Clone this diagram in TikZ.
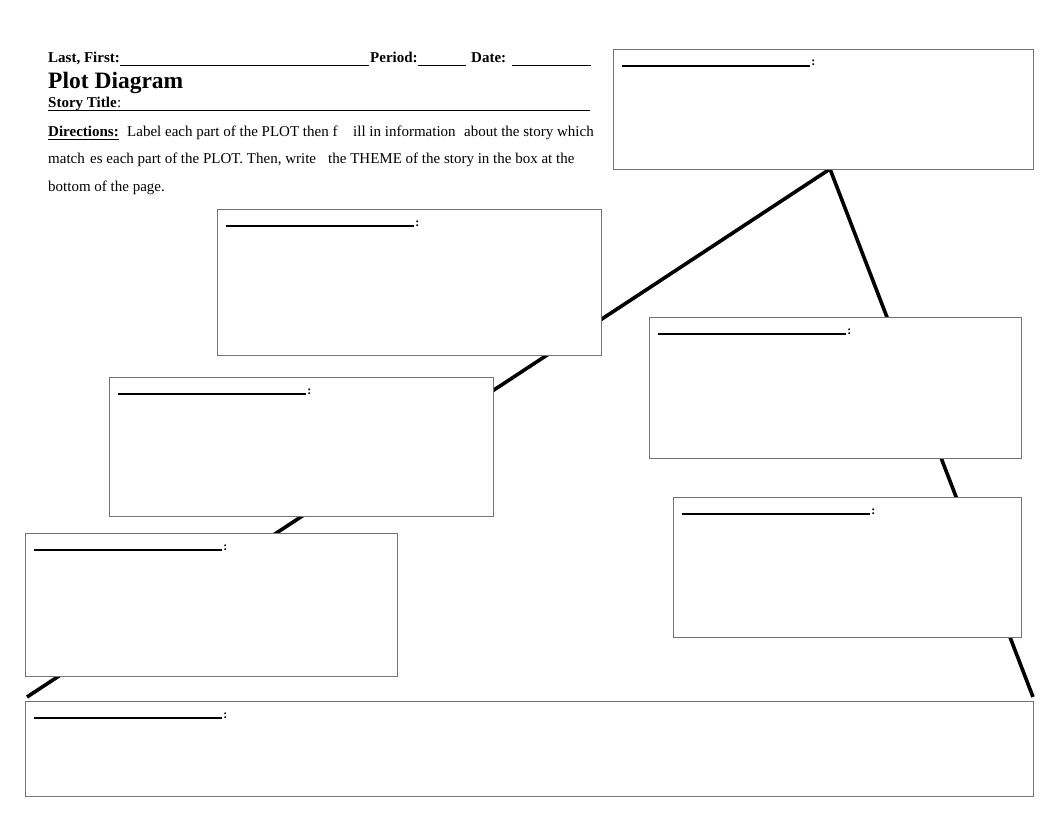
\documentclass[tikz,border=0pt]{standalone}
\usepackage{fontspec}
\setmainfont{Liberation Serif}
\begin{document}
\begin{tikzpicture}[x=1pt,y=-1pt,
  plotline/.style={line width=3.6pt, black, line join=miter},
  plotbox/.style={draw=black!55, fill=white, line width=1.2pt, anchor=north west, inner sep=0pt},
  blank/.style={line width=1.6pt, black},
  colon/.style={anchor=base west, inner sep=0.5pt, font=\bfseries\fontsize{12}{12}\selectfont},
  hdr/.style={anchor=base west, inner sep=0pt, font=\bfseries\fontsize{15}{15}\selectfont},
  body/.style={anchor=base west, inner sep=0pt, font=\fontsize{15}{15}\selectfont},
  rule/.style={line width=0.9pt, black}]
\useasboundingbox (0,0) rectangle (1056,816);
% header
\node[hdr] (last) at (48,63) {Last, First:};
\coordinate (lastend) at (369,65);
\draw[rule] (last.base east |- lastend) -- (lastend);
\node[hdr] (period) at (370,63) {Period:};
\coordinate (periodend) at (466,65);
\draw[rule] (period.base east |- periodend) -- (periodend);
\node[hdr] (date) at (471,63) {Date:};
\coordinate (datestart) at (512,65);
\coordinate (dateend) at (591,65);
\draw[rule] (datestart) -- (dateend);
\node[anchor=base west, inner sep=0pt, font=\bfseries\fontsize{23.5}{23.5}\selectfont] (title) at (48,88) {Plot Diagram};
\node[hdr] (story) at (48,107) {Story Title};
\node[body] (storycolon) at (story.base east) {:};
\coordinate (storyend) at (590,110);
\draw[rule] (48,110) -- (storyend);
\node[hdr] (dir) at (48,136) {Directions:};
\draw[rule] (48,139) -- (dir.base east |- 0,139);
\node[body] (l1a) at (127,136) {Label each part of the PLOT then f};
\node[body] (l1b) at (353,136) {ill in information};
\node[body] (l1c) at (464,136) {about the story which};
\node[body] (l2a) at (48,163) {match};
\node[body] (l2b) at (90,163) {es each part of the PLOT. Then, write};
\node[body] (l2c) at (328,163) {the THEME of the story in the box at the};
\node[body] (l3) at (48,191) {bottom of the page.};
% plot line
\coordinate (start) at (27,697);
\coordinate (peak) at (830,169);
\coordinate (finish) at (1033,697);
\draw[plotline] (start) -- (peak) -- (finish);
% boxes
\node[plotbox, minimum width=420pt, minimum height=120pt] (b1) at (613,49) {};
\node[plotbox, minimum width=384pt, minimum height=146pt] (b2) at (217,209) {};
\node[plotbox, minimum width=372pt, minimum height=141pt] (b3) at (649,317) {};
\node[plotbox, minimum width=384pt, minimum height=139pt] (b4) at (109,377) {};
\node[plotbox, minimum width=348pt, minimum height=140pt] (b5) at (673,497) {};
\node[plotbox, minimum width=372pt, minimum height=143pt] (b6) at (25,533) {};
\node[plotbox, minimum width=1008pt, minimum height=95pt] (b7) at (25,701) {};
% label blanks
\foreach \b in {b1,b2,b3,b4,b5,b6,b7}{
  \draw[blank] ([shift={(9,17)}]\b.north west) -- ++(188,0) node[colon] (\b c) {:};
}
\end{tikzpicture}
\end{document}
